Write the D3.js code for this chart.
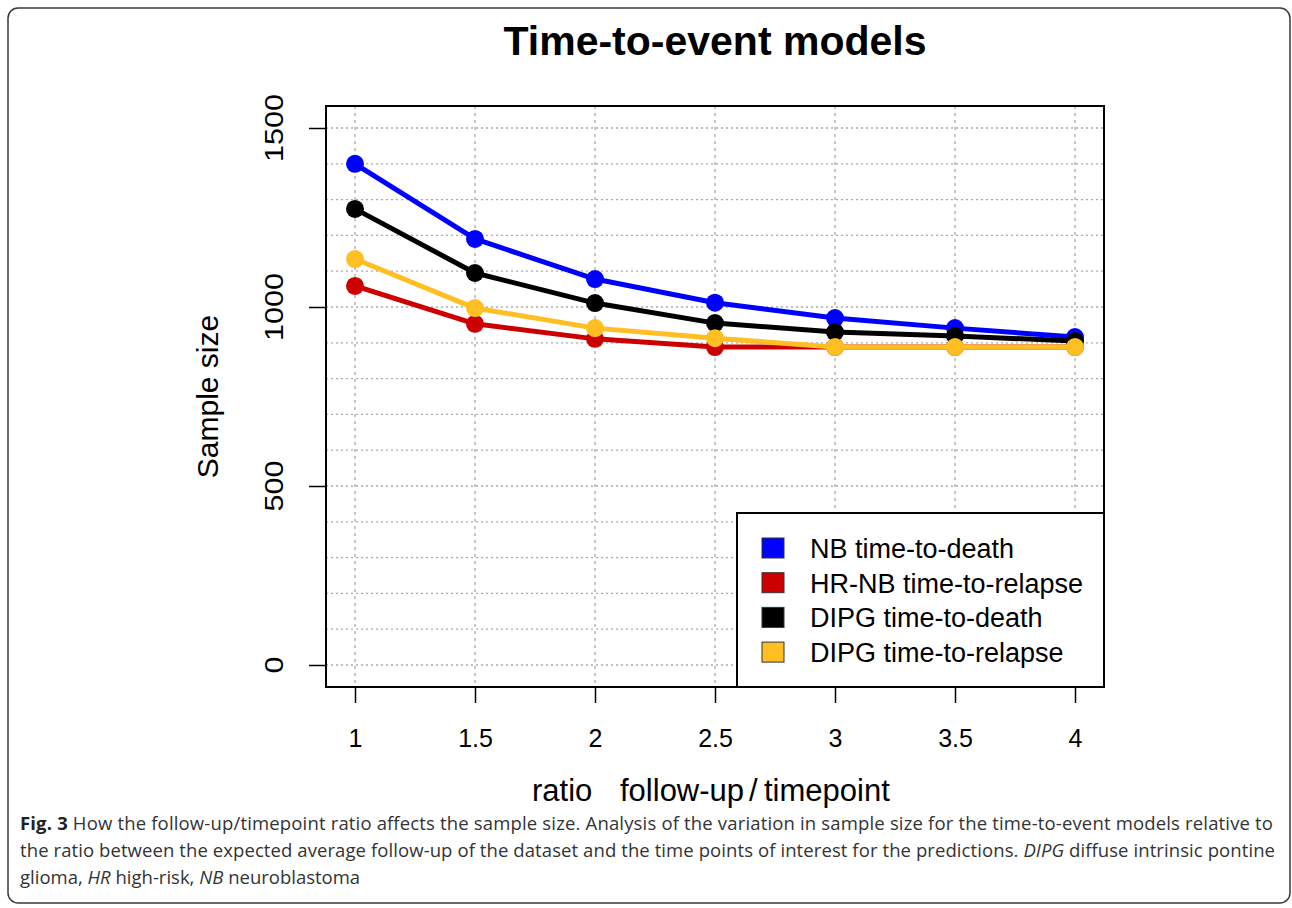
<!DOCTYPE html>
<html>
<head>
<meta charset="utf-8">
<script src="https://cdn.jsdelivr.net/npm/d3@7"></script>
<style>
  body { margin: 0; background: #fff; }
  svg { display: block; }
</style>
</head>
<body>
<svg id="chart" width="1292" height="908"></svg>
<script>
// Data
let ratios = [1, 1.5, 2, 2.5, 3, 3.5, 4];
let nbDeath = [1400, 1190, 1078, 1012, 969, 941, 916];
let hrnbRelapse = [1059, 953, 911, 888, 888, 888, 888];
let dipgDeath = [1274, 1095, 1011, 955, 930, 919, 905];
let dipgRelapse = [1134, 997, 941, 913, 888, 888, 888];

let seriesNames = ['NB time-to-death', 'HR-NB time-to-relapse', 'DIPG time-to-death', 'DIPG time-to-relapse'];
let seriesColors = ['#0000ff', '#cd0000', '#000000', '#ffbe22'];
let seriesValues = [nbDeath, hrnbRelapse, dipgDeath, dipgRelapse];

let xTicks = [1, 1.5, 2, 2.5, 3, 3.5, 4];
let yTicks = [0, 500, 1000, 1500];
let yGrid = d3.range(0, 1501, 100);

let svg = d3.select('#chart');

// plot box (R style, 4% padding)
let box = { left: 326, right: 1104, top: 106, bottom: 687 };

let x = d3.scaleLinear()
    .domain([1, 4])
    .range([355, 1075]);

let y = d3.scaleLinear()
    .domain([0, 1500])
    .range([665, 128]);

// outer frame
svg.append('rect')
    .attr('x', 8).attr('y', 8)
    .attr('width', 1282).attr('height', 895)
    .attr('rx', 10)
    .attr('fill', 'none')
    .attr('stroke', '#3a3a3a')
    .attr('stroke-width', 1.5);

// Title
svg.append('text')
    .attr('x', 715).attr('y', 55)
    .attr('text-anchor', 'middle')
    .style('font-family', 'Liberation Sans, Arial, sans-serif')
    .style('font-weight', 'bold')
    .style('font-size', '41px')
    .text('Time-to-event models');

// Grid
svg.append('g')
    .selectAll('line')
    .data(yGrid)
    .join('line')
    .attr('x1', box.left).attr('x2', box.right)
    .attr('y1', d => y(d)).attr('y2', d => y(d))
    .attr('stroke', '#aaa')
    .attr('stroke-width', 1.3)
    .attr('stroke-dasharray', '2,3');

svg.append('g')
    .selectAll('line')
    .data(xTicks)
    .join('line')
    .attr('x1', d => x(d)).attr('x2', d => x(d))
    .attr('y1', box.top).attr('y2', box.bottom)
    .attr('stroke', '#aaa')
    .attr('stroke-width', 1.3)
    .attr('stroke-dasharray', '3,4');

// Axes
let xAxis = d3.axisBottom(x)
    .tickValues(xTicks)
    .tickSize(16)
    .tickPadding(26)
    .tickFormat(d3.format('~g'));

let gx = svg.append('g')
    .attr('transform', `translate(0,${box.bottom})`)
    .call(xAxis);
gx.select('.domain').remove();
gx.selectAll('line').attr('stroke', '#000').attr('stroke-width', 1.5);
gx.selectAll('text')
    .style('font-family', 'Liberation Sans, Arial, sans-serif')
    .style('font-size', '25px')
    .attr('fill', '#000');

let yAxis = d3.axisLeft(y)
    .tickValues(yTicks)
    .tickSize(17)
    .tickFormat(d3.format('d'));

let gy = svg.append('g')
    .attr('transform', `translate(${box.left},0)`)
    .call(yAxis);
gy.select('.domain').remove();
gy.selectAll('line').attr('stroke', '#000').attr('stroke-width', 1.5);
gy.selectAll('text').remove();

// rotated y tick labels
svg.append('g')
    .selectAll('text')
    .data(yTicks)
    .join('text')
    .attr('transform', d => `translate(283,${y(d)}) rotate(-90)`)
    .attr('text-anchor', 'middle')
    .style('font-family', 'Liberation Sans, Arial, sans-serif')
    .style('font-size', '25px')
    .attr('textLength', d => String(d).length * 17)
    .attr('lengthAdjust', 'spacingAndGlyphs')
    .text(d => d);

// axis titles
svg.append('text')
    .attr('transform', `translate(218,${(box.top + box.bottom) / 2}) rotate(-90)`)
    .attr('text-anchor', 'middle')
    .style('font-family', 'Liberation Sans, Arial, sans-serif')
    .style('font-size', '30px')
    .text('Sample size');

// "ratio   follow-up / timepoint"
let xl = svg.append('text')
    .attr('y', 801)
    .style('font-family', 'Liberation Sans, Arial, sans-serif')
    .style('font-size', '31px');
xl.append('tspan').attr('x', 532).text('ratio');
xl.append('tspan').attr('x', 620).text('follow-up');
xl.append('tspan').attr('x', 749).text('/');
xl.append('tspan').attr('x', 764).text('timepoint');

// Lines and points
let line = d3.line()
    .x((d, i) => x(ratios[i]))
    .y(d => y(d));

seriesValues.forEach(function (vals, k) {
    let g = svg.append('g');
    g.append('path')
        .datum(vals)
        .attr('d', line)
        .attr('fill', 'none')
        .attr('stroke', seriesColors[k])
        .attr('stroke-width', 5)
        .attr('stroke-linejoin', 'round');
    g.selectAll('circle')
        .data(vals)
        .join('circle')
        .attr('cx', (d, i) => x(ratios[i]))
        .attr('cy', d => y(d))
        .attr('r', 9)
        .attr('fill', seriesColors[k]);
});

// plot box
svg.append('rect')
    .attr('x', box.left).attr('y', box.top)
    .attr('width', box.right - box.left)
    .attr('height', box.bottom - box.top)
    .attr('fill', 'none')
    .attr('stroke', '#000')
    .attr('stroke-width', 2);

// Legend
let legend = svg.append('g');
legend.append('rect')
    .attr('x', 737).attr('y', 513)
    .attr('width', 1104 - 737).attr('height', 687 - 513)
    .attr('fill', '#fff')
    .attr('stroke', '#000')
    .attr('stroke-width', 2);

let legendRows = legend.selectAll('g.row')
    .data(seriesNames)
    .join('g')
    .attr('class', 'row')
    .attr('transform', (d, i) => `translate(0,${558 + i * 34.7})`);

legendRows.append('rect')
    .attr('x', 762).attr('y', -20)
    .attr('width', 22).attr('height', 20)
    .attr('fill', (d, i) => seriesColors[i])
    .attr('stroke', '#333')
    .attr('stroke-width', 1);

legendRows.append('text')
    .attr('x', 810)
    .style('font-family', 'Liberation Sans, Arial, sans-serif')
    .style('font-size', '27px')
    .text(d => d);

// Caption
let capFont = 'Open Sans, sans-serif';
let cap1 = svg.append('text')
    .attr('x', 20).attr('y', 830)
    .attr('textLength', 1253).attr('lengthAdjust', 'spacing')
    .style('font-family', capFont).style('font-size', '18.5px').attr('fill', '#333');
cap1.append('tspan').style('font-weight', 'bold').attr('fill', '#222').text('Fig. 3');
cap1.append('tspan').text(' How the follow-up/timepoint ratio affects the sample size. Analysis of the variation in sample size for the time-to-event models relative to');

let cap2 = svg.append('text')
    .attr('x', 20).attr('y', 857)
    .attr('textLength', 1255).attr('lengthAdjust', 'spacing')
    .style('font-family', capFont).style('font-size', '18.5px').attr('fill', '#333');
cap2.append('tspan').text('the ratio between the expected average follow-up of the dataset and the time points of interest for the predictions. ');
cap2.append('tspan').style('font-style', 'italic').text('DIPG');
cap2.append('tspan').text(' diffuse intrinsic pontine');

let cap3 = svg.append('text')
    .attr('x', 20).attr('y', 884)
    .style('font-family', capFont).style('font-size', '18.5px').attr('fill', '#333');
cap3.append('tspan').text('glioma, ');
cap3.append('tspan').style('font-style', 'italic').text('HR');
cap3.append('tspan').text(' high-risk, ');
cap3.append('tspan').style('font-style', 'italic').text('NB');
cap3.append('tspan').text(' neuroblastoma');
</script>
</body>
</html>
